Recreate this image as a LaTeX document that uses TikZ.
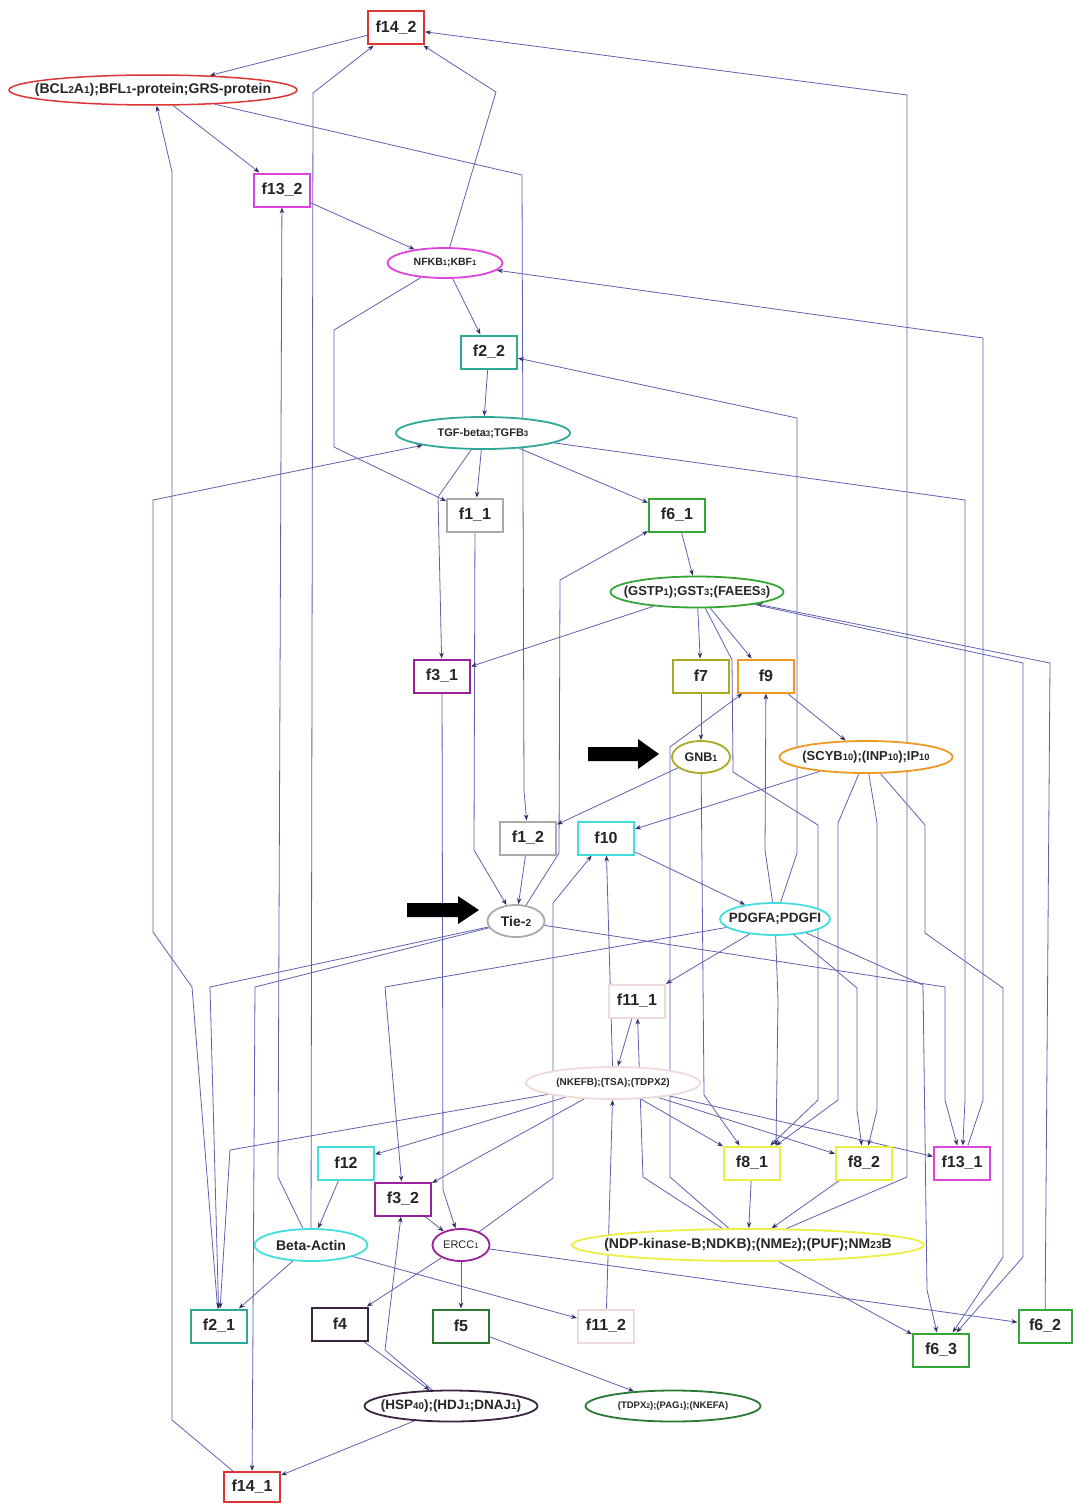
\documentclass[tikz,border=0pt]{standalone}
\usepackage{fontspec}
\setmainfont{Liberation Sans}
\usepackage{graphicx}
\usetikzlibrary{shapes.geometric,arrows.meta,calc}
\newcommand\sd[1]{\scalebox{0.72}{#1}}
\newcommand\zb[1]{\makebox[0pt][c]{#1}}
\pgfdeclarelayer{bg}
\pgfsetlayers{bg,main}
\definecolor{cRed}{HTML}{DD3535}
\definecolor{cMag}{HTML}{DD44DD}
\definecolor{cTeal}{HTML}{2FA898}
\definecolor{cGray}{HTML}{AAAAAA}
\definecolor{cGreen}{HTML}{35A535}
\definecolor{cPurp}{HTML}{992299}
\definecolor{cOlive}{HTML}{AAAA25}
\definecolor{cOrange}{HTML}{EE9A22}
\definecolor{cCyan}{HTML}{44DDDD}
\definecolor{cPink}{HTML}{EEDADA}
\definecolor{cYellow}{HTML}{EEEE44}
\definecolor{cDark}{HTML}{3A2540}
\definecolor{cDGreen}{HTML}{2A7A35}
\definecolor{cEdge}{HTML}{6060B0}
\definecolor{cTip}{HTML}{303060}
\begin{document}
\begin{tikzpicture}[x=1pt,y=-1pt,
  fb/.style={draw=#1, line width=2pt, fill=white, minimum width=56pt, minimum height=33pt, inner sep=0pt, font=\fontsize{16}{16}\selectfont\bfseries, text=black!85},
  el/.style={draw=#1, ellipse, line width=1.8pt, fill=white, inner sep=0pt, text=black!85},
  ed/.style={draw=cEdge, line width=0.8pt, -{Stealth[length=6pt,width=4.5pt,color=cTip]}}]
\useasboundingbox (0,0) rectangle (1072,1504);
\begin{pgfonlayer}{bg}
\fill[white] (0,0) rectangle (1072,1504);
\end{pgfonlayer}
% boxes
\node[fb=cRed] (f14b) at (396,28) {f14\_2};
\node[fb=cMag] (f13b) at (282,190) {f13\_2};
\node[fb=cTeal] (f2b) at (489,352) {f2\_2};
\node[fb=cGray] (f1a) at (475,515) {f1\_1};
\node[fb=cGreen] (f6a) at (677,515) {f6\_1};
\node[fb=cPurp] (f3a) at (442,676) {f3\_1};
\node[fb=cOlive] (f7) at (701,676) {f7};
\node[fb=cOrange] (f9) at (766,676) {f9};
\node[fb=cGray] (f1b) at (528,838) {f1\_2};
\node[fb=cCyan] (f10) at (606,838) {f10};
\node[fb=cPink] (f11a) at (637,1001) {f11\_1};
\node[fb=cCyan] (f12) at (346,1163) {f12};
\node[fb=cPurp] (f3b) at (403,1199) {f3\_2};
\node[fb=cYellow] (f8a) at (752,1163) {f8\_1};
\node[fb=cYellow] (f8b) at (864,1163) {f8\_2};
\node[fb=cMag] (f13a) at (962,1163) {f13\_1};
\node[fb=cTeal] (f2a) at (219,1326) {f2\_1};
\node[fb=cDark] (f4) at (340,1324) {f4};
\node[fb=cDGreen] (f5) at (461,1326) {f5};
\node[fb=cPink] (f11b) at (606,1326) {f11\_2};
\node[fb=cGreen, minimum width=53pt] (f6b) at (1045,1326) {f6\_2};
\node[fb=cGreen] (f6c) at (941,1350) {f6\_3};
\node[fb=cRed, minimum height=30pt] (f14a) at (252,1487) {f14\_1};
% ellipses
\node[el=cRed, line width=1.5pt, minimum width=288pt, minimum height=30pt, font=\fontsize{14}{14}\selectfont\bfseries] (bcl) at (153,90) {\zb{(BCL\sd{2}A\sd{1});BFL\sd{1}-protein;GRS-protein}};
\node[el=cMag, minimum width=115pt, minimum height=30pt, font=\fontsize{10.5}{10.5}\selectfont\bfseries] (nfkb) at (445,263) {\zb{NFKB\sd{1};KBF\sd{1}}};
\node[el=cTeal, minimum width=174pt, minimum height=32pt, font=\fontsize{11}{11}\selectfont\bfseries] (tgf) at (483,433) {\zb{TGF-beta\sd{3};TGFB\sd{3}}};
\node[el=cGreen, minimum width=173pt, minimum height=31pt, font=\fontsize{13}{13}\selectfont\bfseries] (gstp) at (697,592) {\zb{(GSTP\sd{1});GST\sd{3};(FAEES\sd{3})}};
\node[el=cOlive, minimum width=58pt, minimum height=32pt, font=\fontsize{12.5}{12.5}\selectfont\bfseries] (gnb) at (701,757) {\zb{GNB\sd{1}}};
\node[el=cOrange, minimum width=173pt, minimum height=32pt, font=\fontsize{13}{13}\selectfont\bfseries] (scyb) at (866,757) {\zb{(SCYB\sd{10});(INP\sd{10});IP\sd{10}}};
\node[el=cGray, minimum width=57pt, minimum height=32pt, font=\fontsize{14}{14}\selectfont\bfseries] (tie) at (516,921) {\zb{Tie-\sd{2}}};
\node[el=cCyan, minimum width=110pt, minimum height=32pt, font=\fontsize{13.5}{13.5}\selectfont\bfseries] (pdgf) at (775,919) {\zb{PDGFA;PDGFI}};
\node[el=cPink, minimum width=174pt, minimum height=32pt, font=\fontsize{10}{10}\selectfont\bfseries] (nkefb) at (613,1083) {\zb{(NKEFB);(TSA);(TDPX2)}};
\node[el=cCyan, minimum width=113pt, minimum height=32pt, font=\fontsize{14}{14}\selectfont\bfseries] (beta) at (311,1245) {\zb{Beta-Actin}};
\node[el=cPurp, minimum width=57pt, minimum height=32pt, font=\fontsize{11}{11}\selectfont] (ercc) at (461,1245) {\zb{ERCC\sd{1}}};
\node[el=cYellow, minimum width=352pt, minimum height=32pt, font=\fontsize{14}{14}\selectfont\bfseries] (ndp) at (748,1245) {\zb{(NDP-kinase-B;NDKB);(NME\sd{2});(PUF);NM\sd{23}B}};
\node[el=cDark, minimum width=173pt, minimum height=31pt, font=\fontsize{13.5}{13.5}\selectfont\bfseries] (hsp) at (451,1406) {\zb{(HSP\sd{40});(HDJ\sd{1};DNAJ\sd{1})}};
\node[el=cDGreen, minimum width=175pt, minimum height=31pt, font=\fontsize{9.5}{9.5}\selectfont\bfseries] (tdpx) at (673,1406) {\zb{(TDPX\sd{2});(PAG\sd{1});(NKEFA)}};
% black pointer arrows
\fill[black] (588,747) -- (638,747) -- (638,739) -- (659,754) -- (638,769) -- (638,761) -- (588,761) -- cycle;
\fill[black] (407,903) -- (458,903) -- (458,896) -- (479,910) -- (458,924) -- (458,917) -- (407,917) -- cycle;
% edges
\begin{pgfonlayer}{bg}
\draw[ed] (f14b) -- (bcl);
\draw[ed] (bcl) -- (f13b);
\draw[ed] (bcl) -- (522,175) -- (524,790) -- (f1b);
\draw[ed] (f13b) -- (nfkb);
\draw[ed] (nfkb) -- (496,92) -- (f14b);
\draw[ed] (beta) -- (313,93) -- (f14b);
\draw[ed] (beta) -- (278,1177) -- (f13b);
\draw[ed] (f14a) -- (172,1420) -- (172,172) -- (bcl);
\draw[ed] (nfkb) -- (f2b);
\draw[ed] (nfkb) -- (334,330) -- (334,447) -- (f1a);
\draw[ed] (f2b) -- (tgf);
\draw[ed] (tgf) -- (f1a);
\draw[ed] (tgf) -- (f6a);
\draw[ed] (tgf) -- (965,500) -- (965,1100) -- (f13a);
\draw[ed] (f2a) -- (192,987) -- (153,932) -- (153,500) -- (tgf);
\draw[ed] (tgf) -- (438,497) -- (f3a);
\draw[ed] (f1a) -- (474,850) -- (tie);
\draw[ed] (f1b) -- (tie);
\draw[ed] (tie) -- (559,853) -- (560,580) -- (f6a);
\draw[ed] (gnb) -- (f1b);
\draw[ed] (scyb) -- (f10);
\draw[ed] (f10) -- (pdgf);
\draw[ed] (f7) -- (gnb);
\draw[ed] (gstp) -- (f7);
\draw[ed] (gstp) -- (f9);
\draw[ed] (gstp) -- (f3a);
\draw[ed] (f6a) -- (gstp);
\draw[ed] (f9) -- (scyb);
\draw[ed] (f6b) -- (1050,663) -- (gstp);
\draw[ed] (gstp) -- (1023,663) -- (1023,1257) -- (f6c);
\draw[ed] (scyb) -- (925,825) -- (925,933) -- (1003,988) -- (1003,1257) -- (f6c);
\draw[ed] (pdgf) -- (923,985) -- (927,1290) -- (f6c);
\draw[ed] (tie) -- (945,987) -- (945,1100) -- (f13a);
\draw[ed] (f13a) -- (983,1100) -- (983,338) -- (nfkb);
\draw[ed] (ndp) -- (907,1177) -- (907,95) -- (f14b);
\draw[ed] (pdgf) -- (797,853) -- (797,418) -- (f2b);
\draw[ed] (pdgf) -- (765,850) -- (f9);
\draw[ed] (gstp) -- (732,660) -- (733,772) -- (818,825) -- (818,1100) -- (f8a);
\draw[ed] (gnb) -- (704,1095) -- (f8a);
\draw[ed] (scyb) -- (838,823) -- (838,1100) -- (f8a);
\draw[ed] (pdgf) -- (778,1000) -- ($(f8a.north)+(24,0)$);
\draw[ed] (pdgf) -- (857,988) -- (857,1110) -- (f8b);
\draw[ed] (scyb) -- (877,823) -- (877,1110) -- (f8b);
\draw[ed] (pdgf) -- (f11a);
\draw[ed] (pdgf) -- (385,987) -- (f3b);
\draw[ed] (tie) -- (210,987) -- (f2a);
\draw[ed] (tie) -- (255,987) -- (f14a);
\draw[ed] (nkefb) -- (230,1150) -- (f2a);
\draw[ed] (nkefb) -- (f12);
\draw[ed] (nkefb) -- (f3b);
\draw[ed] (nkefb) -- (f8a);
\draw[ed] (nkefb) -- (f8b);
\draw[ed] (nkefb) -- (f13a);
\draw[ed] (ndp) -- (670,1177) -- (670,747) -- (f9);
\draw[ed] (ndp) -- (643,1177) -- (f11a);
\draw[ed] (f11a) -- (nkefb);
\draw[ed] (nkefb) -- (f10);
\draw[ed] (f11b) -- (nkefb);
\draw[ed] (ercc) -- (553,1178) -- (553,903) -- (f10);
\draw[ed] (f3b) -- (ercc);
\draw[ed] (ercc) -- (f4);
\draw[ed] (ercc) -- (f5);
\draw[ed] (ercc) -- (f6b);
\draw[ed] (beta) -- (f11b);
\draw[ed] (f5) -- (tdpx);
\draw[ed] (f4) -- (hsp);
\draw[ed] (hsp) -- (385,1350) -- (f3b);
\draw[ed] (hsp) -- (f14a);
\draw[ed] (ndp) -- (f6c);
\draw[ed] (f8a) -- (ndp);
\draw[ed] (f8b) -- (ndp);
\draw[ed] (f12) -- (beta);
\draw[ed] (beta) -- (f2a);
\draw[ed] (f3a) -- (443,1190) -- (ercc);
\end{pgfonlayer}
\end{tikzpicture}
\end{document}
